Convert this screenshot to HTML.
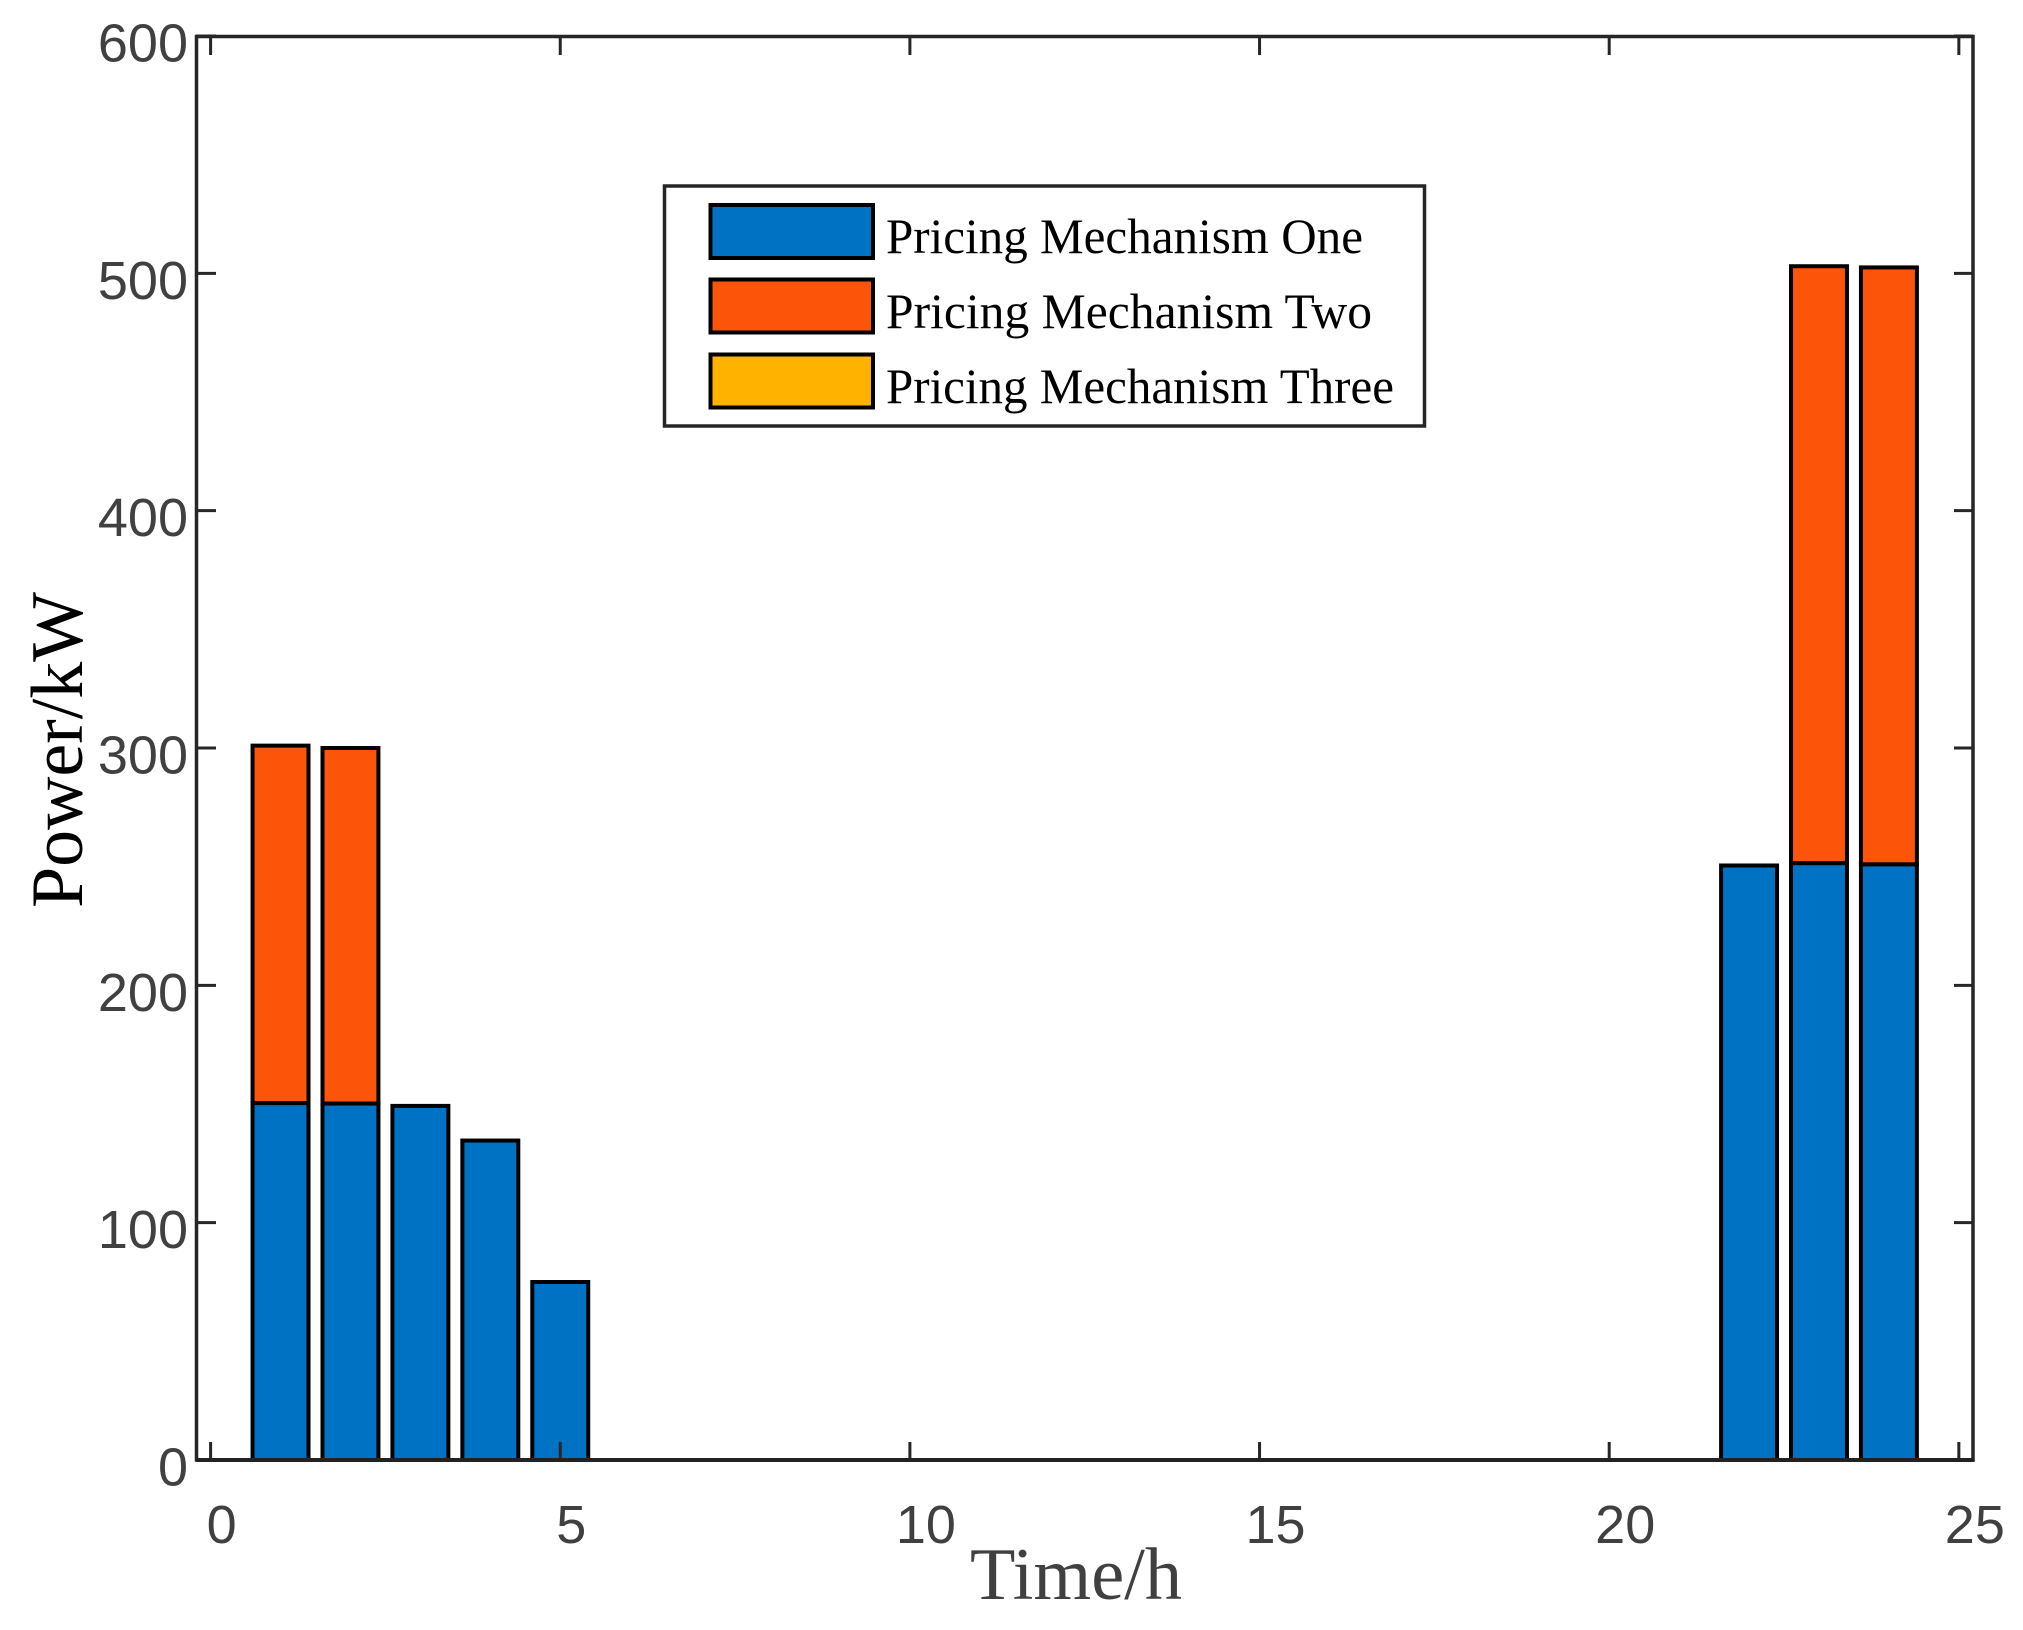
<!DOCTYPE html>
<html lang="en">
<head>
<meta charset="utf-8">
<title>Power by pricing mechanism</title>
<style>
  html, body { margin: 0; padding: 0; background: #fff; }
  body { width: 2023px; height: 1630px; overflow: hidden; }
  svg { display: block; }
  .tick-label { font-family: "Liberation Sans", Arial, sans-serif; font-size: 54px; fill: #404040; }
  .legend-label { font-family: "Liberation Serif", "Times New Roman", serif; font-size: 50px; fill: #000; }
  .axis-title { font-family: "Liberation Serif", "Times New Roman", serif; font-size: 74px; }
</style>
</head>
<body>
<svg id="chart" xmlns="http://www.w3.org/2000/svg" width="2023" height="1630" viewBox="0 0 2023 1630">
  <rect x="0" y="0" width="2023" height="1630" fill="#ffffff"/>
  <g id="bars"></g>
  <g id="ticks"></g>
  <rect x="196.5" y="36.5" width="1776.5" height="1423.5" fill="none" stroke="#262626" stroke-width="3.5"/>
  <line x1="196" y1="1460" x2="1974" y2="1460" stroke="#222222" stroke-width="4"/>
  <g id="tick-labels"></g>
  <text class="axis-title" x="970" y="1599" fill="#404040" textLength="212" lengthAdjust="spacingAndGlyphs">Time/h</text>
  <text class="axis-title" transform="translate(82,908) rotate(-90)" x="0" y="0" fill="#000000" textLength="316" lengthAdjust="spacing">Power/kW</text>
  <g id="legend">
    <rect x="664.5" y="186" width="760" height="240" fill="#ffffff" stroke="#262626" stroke-width="3.5"/>
    <rect x="710.5" y="205" width="162.5" height="53" fill="#0072c3" stroke="#000" stroke-width="4"/>
    <text class="legend-label" x="886" y="253" textLength="477" lengthAdjust="spacingAndGlyphs">Pricing Mechanism One</text>
    <rect x="710.5" y="279.5" width="162.5" height="53" fill="#fc5409" stroke="#000" stroke-width="4"/>
    <text class="legend-label" x="886" y="328" textLength="486" lengthAdjust="spacingAndGlyphs">Pricing Mechanism Two</text>
    <rect x="710.5" y="354.5" width="162.5" height="53" fill="#ffb300" stroke="#000" stroke-width="4"/>
    <text class="legend-label" x="886" y="403" textLength="508" lengthAdjust="spacingAndGlyphs">Pricing Mechanism Three</text>
  </g>
</svg>
<script>
const hours = [1, 2, 3, 4, 5, 22, 23, 24];
const mechanismOne = [150.4, 150.2, 149.2, 134.6, 75, 250.5, 251.5, 251];
const mechanismTwo = [150.6, 149.8, 0, 0, 0, 0, 251.5, 251.5];
const mechanismThree = [0, 0, 0, 0, 0, 0, 0, 0];
const xTickValues = [0, 5, 10, 15, 20, 25];
const yTickValues = [0, 100, 200, 300, 400, 500, 600];

const NS = 'http://www.w3.org/2000/svg';
const xScale = function (v) { return 210.6 + v * 69.93; };
const yScale = function (v) { return 1460 - v * 2.3733; };
const barWidth = 0.8;

function make(tag, attrs, parent) {
  const el = document.createElementNS(NS, tag);
  Object.keys(attrs).forEach(function (k) { el.setAttribute(k, attrs[k]); });
  parent.appendChild(el);
  return el;
}

const barsGroup = document.getElementById('bars');
const ticksGroup = document.getElementById('ticks');
const labelsGroup = document.getElementById('tick-labels');
const seriesList = [mechanismOne, mechanismTwo, mechanismThree];
const seriesColors = ['#0072c3', '#fc5409', '#ffb300'];

hours.forEach(function (h, i) {
  let base = 0;
  seriesList.forEach(function (series, s) {
    const v = series[i];
    if (v > 0) {
      const left = xScale(h - barWidth / 2);
      const right = xScale(h + barWidth / 2);
      const top = yScale(base + v);
      const bottom = yScale(base);
      const bar = make('rect', {
        x: left, y: top, width: right - left, height: bottom - top,
        fill: seriesColors[s], stroke: '#000000', 'stroke-width': 4
      }, barsGroup);
      
      
    }
    base += v;
  });
});

xTickValues.forEach(function (v) {
  const x = xScale(v);
  const bottomTick = make('line', { x1: x, y1: 1460, x2: x, y2: 1442, stroke: '#262626', 'stroke-width': 3 }, ticksGroup);
  
  
  const topTick = make('line', { x1: x, y1: 36, x2: x, y2: 55, stroke: '#262626', 'stroke-width': 3 }, ticksGroup);
  
  
  const text = String(v);
  const label = make('text', { class: 'tick-label', x: x + (text.length > 1 ? 16 : 11), y: 1543, 'text-anchor': 'middle' }, labelsGroup);
  label.textContent = text;
  
  
});

yTickValues.forEach(function (v) {
  const y = yScale(v);
  const leftTick = make('line', { x1: 196, y1: y, x2: 216, y2: y, stroke: '#262626', 'stroke-width': 3 }, ticksGroup);
  
  
  const rightTick = make('line', { x1: 1973, y1: y, x2: 1954, y2: y, stroke: '#262626', 'stroke-width': 3 }, ticksGroup);
  
  
  const label = make('text', { class: 'tick-label', x: 188, y: y + 25.5, 'text-anchor': 'end' }, labelsGroup);
  label.textContent = String(v);
  
  
});
</script>
</body>
</html>
